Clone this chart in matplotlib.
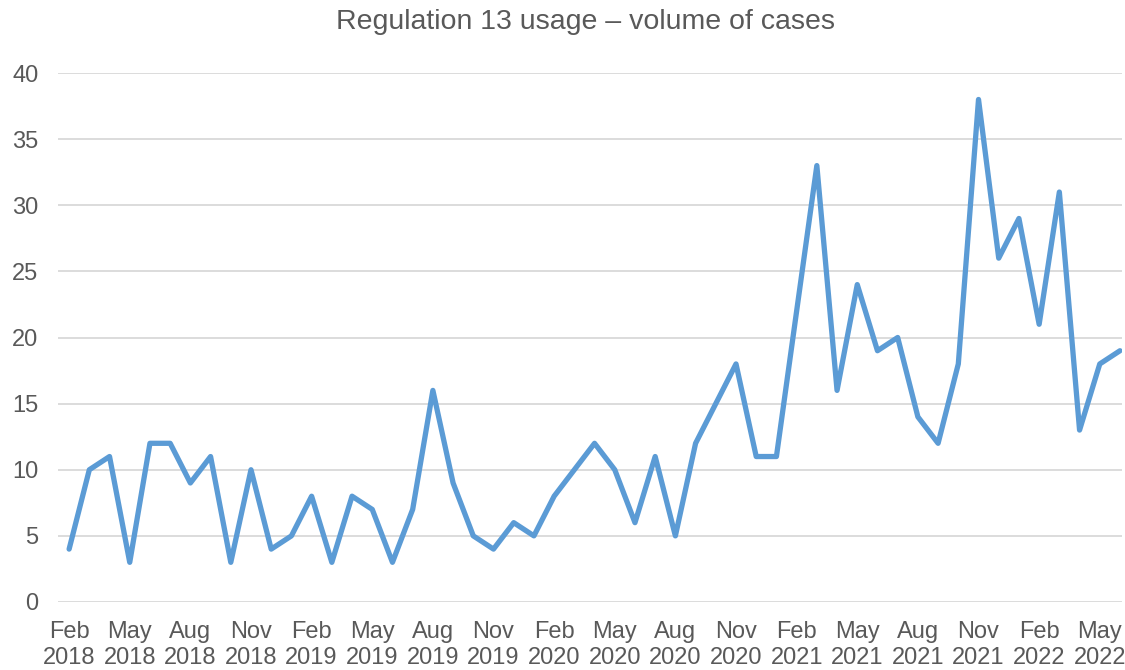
import matplotlib.pyplot as plt

# Datos mensuales: Feb 2018 - Jun 2022
months = ['Feb', 'Mar', 'Apr', 'May', 'Jun', 'Jul', 'Aug', 'Sep', 'Oct', 'Nov', 'Dec', 'Jan']
cases = [4, 10, 11, 3, 12, 12, 9, 11, 3, 10, 4, 5,
         8, 3, 8, 7, 3, 7, 16, 9, 5, 4, 6, 5,
         8, 10, 12, 10, 6, 11, 5, 12, 15, 18, 11, 11,
         22, 33, 16, 24, 19, 20, 14, 12, 18, 38, 26, 29,
         21, 31, 13, 18, 19]

# Etiquetas cada 3 meses
labels = []
for i in range(len(cases)):
    m = months[i % 12]
    year = 2018 + (i + 1) // 12
    labels.append(f'{m}\n{year}')
tick_pos = list(range(0, len(cases), 3))
tick_labels = [labels[i] for i in tick_pos]

plt.rcParams['font.family'] = ['Liberation Sans', 'DejaVu Sans']

fig = plt.figure(figsize=(11.25, 6.7), dpi=100)
ax = fig.add_axes([58 / 1125, 68 / 670, (1122 - 58) / 1125, (602 - 73) / 670])

x = list(range(len(cases)))
ax.plot(x, cases, color='#5B9BD5', linewidth=3.8, solid_joinstyle='round', solid_capstyle='round')

ax.set_ylim(0, 40)
ax.set_yticks(range(0, 41, 5))
ax.set_xlim(-0.55, 52.1)
ax.set_xticks(tick_pos)
ax.set_xticklabels(tick_labels, linespacing=1.2)

ax.grid(axis='y', color='#D9D9D9', linewidth=1.3)
ax.set_axisbelow(True)
for s in ax.spines.values():
    s.set_visible(False)
ax.tick_params(length=0, labelsize=17, labelcolor='#595959')
ax.tick_params(axis='x', pad=14)
ax.tick_params(axis='y', pad=14)

fig.text(585 / 1125, 1 - 22 / 670, 'Regulation 13 usage – volume of cases',
         ha='center', va='center', fontsize=20.5, color='#595959')

fig.savefig('out.png', dpi=100)
